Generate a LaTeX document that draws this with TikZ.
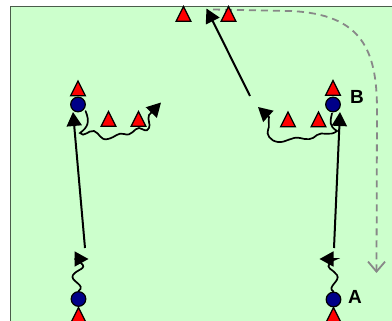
\documentclass[tikz,border=0pt]{standalone}
\usepackage{fontspec}
\setmainfont{Liberation Sans}
\usetikzlibrary{arrows.meta,calc}
\definecolor{fieldgreen}{HTML}{CCFFCC}
\definecolor{fieldborder}{HTML}{4A5C4A}
\definecolor{navyblue}{HTML}{000088}
\definecolor{dashgray}{HTML}{888888}
\begin{document}
\begin{tikzpicture}[x=1pt,y=-1pt,
  cone/.style={draw=black, fill=red, line width=1.2pt, line join=miter},
  conepic/.pic={\draw[cone] (-7.4,7.3) -- (0,-7.6) -- (7.4,7.3) -- cycle;},
  player/.style={circle, draw=black, fill=navyblue, line width=1.2pt, minimum size=14.6pt, inner sep=0pt},
  runline/.style={line width=2pt, -{Triangle[length=14pt,width=15pt]}},
  dribble/.style={line width=1.7pt, line cap=round, -{Triangle[length=14pt,width=15pt]}},
  passline/.style={dashgray, line width=1.8pt, dash pattern=on 7pt off 5pt, -{Straight Barb[length=10pt,width=17pt,line width=1.8pt]}},
  lab/.style={font=\bfseries\fontsize{19}{21}\selectfont, inner sep=0pt}
]
\useasboundingbox (0,0) rectangle (392,321);
\begin{scope}
\clip (0,0) rectangle (392,321);
\fill[fieldgreen] (10.5,6.5) rectangle (400,330);
\draw[fieldborder, line width=1.5pt] (10.5,330) -- (10.5,6.5) -- (400,6.5);

% dashed pass route
\coordinate (ps) at (213,9.5);
\coordinate (pe) at (376.5,273);
\draw[passline] (ps) -- (290,11) .. controls (362,14) and (377,50) .. (377,110) -- (pe);

% cones
\pic at (183.5,14) {conepic};
\pic at (228.5,14) {conepic};
\pic at (78,88.5) {conepic};
\pic at (108.5,119) {conepic};
\pic at (138.5,119) {conepic};
\pic at (333,88) {conepic};
\pic at (288,119.5) {conepic};
\pic at (318.5,119.5) {conepic};
\pic at (78.5,315) {conepic};
\pic at (333.5,315) {conepic};

% players
\node[player] (pl) at (78,104.5) {};
\node[player] (pr) at (333,104.5) {};
\node[player] (bl) at (78.5,299) {};
\node[player] (br) at (333.5,299.5) {};

% labels
\node[lab] (labB) at (357,97) {B};
\node[lab] (labA) at (355,297) {A};

% runs
\coordinate (l0) at (85,248);
\coordinate (l1) at (73,112);
\draw[runline] (l0) -- (l1);
\coordinate (r0) at (334,248);
\coordinate (r1) at (340,112);
\draw[runline] (r0) -- (r1);
\coordinate (t0) at (250,96);
\coordinate (t1) at (206.5,8.5);
\draw[runline] (t0) -- (t1);

% dribbles
\coordinate (bltip) at (88.5,259);
\draw[dribble] (bl.north) .. controls (87,285) and (69,281) .. (73,275)
   .. controls (77,269) and (88,269) .. (81,263) .. controls (78,260) .. (75,259) -- (bltip);
\coordinate (brtip) at (319.5,259);
\draw[dribble] (br.north) .. controls (326,287) and (341,281) .. (337,275)
   .. controls (333,269) and (324,268) .. (331,263) .. controls (333,260) .. (336,259) -- (brtip);
\coordinate (pltip) at (161,102.5);
\draw[dribble] (pl.south east) ++(2,1) .. controls (90,122) and (88,127) .. (80,133)
   .. controls (84,138) and (88,130) .. (94,131)
   .. controls (100,133) and (100,141) .. (108,139)
   .. controls (116,137) and (118,132) .. (124,134)
   .. controls (132,137) and (134,128) .. (139,128)
   .. controls (144,129) and (146,133) .. (149,128)
   .. controls (151,124) and (147,120) .. (149,115) -- (pltip);
\coordinate (prtip) at (258,107);
\draw[dribble] (pr.south) ++(-1,1) .. controls (330,122) and (329,126) .. (337,131)
   .. controls (330,137) and (322,131) .. (317,135)
   .. controls (312,140) and (307,140) .. (300,138)
   .. controls (292,136) and (286,143) .. (278,142)
   .. controls (270,141) and (266,134) .. (268,130)
   .. controls (270,126) and (268,122) .. (269,117) -- (prtip);
\end{scope}
\end{tikzpicture}
\end{document}
